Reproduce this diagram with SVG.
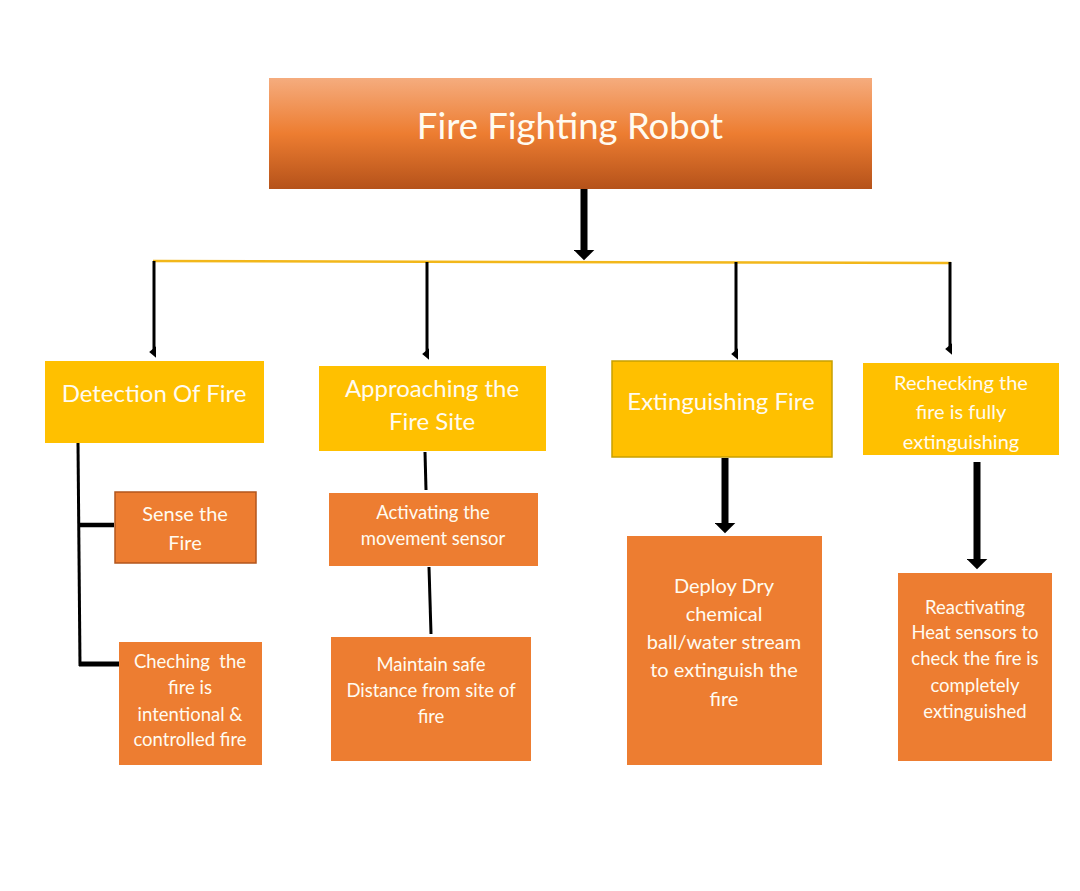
<svg xmlns="http://www.w3.org/2000/svg" width="1080" height="891" viewBox="0 0 1080 891">
<defs>
<linearGradient id="topGrad" x1="0" y1="0" x2="0" y2="1">
<stop offset="0" stop-color="#f5ac7e"/>
<stop offset="0.5" stop-color="#ed7d31"/>
<stop offset="1" stop-color="#b5521a"/>
</linearGradient>
<marker id="ah" viewBox="0 0 10 10" refX="5" refY="2" markerWidth="4" markerHeight="4" orient="auto-start-reverse" markerUnits="strokeWidth">
<path d="M0,0 L10,0 L5,6 Z" fill="#000"/>
</marker>
<marker id="ahBig" viewBox="0 0 10 10" refX="5" refY="2" markerWidth="3" markerHeight="3" orient="0" markerUnits="strokeWidth">
<path d="M0,0 L10,0 L5,5 Z" fill="#000"/>
</marker>
<clipPath id="recClip"><rect x="863" y="363" width="196" height="92"/></clipPath>
</defs>
<style>
text{font-family:Lato,"Open Sans","Liberation Sans",sans-serif;fill:#fffbf0;text-anchor:middle;white-space:pre}
.y{fill:#ffc000}
.o{fill:#ed7d31}
.t1{font-size:24px}
.t2{font-size:20px}
.t3{font-size:18.5px}
.c{stroke:#000;fill:none}
</style>
<rect width="1080" height="891" fill="#fff"/>

<g id="connectors">
<line x1="584" y1="189" x2="584" y2="254" class="c" stroke-width="7" marker-end="url(#ahBig)"/>
<line x1="153" y1="261" x2="951" y2="263" stroke="#f2b71a" stroke-width="2.5"/>
<line x1="154" y1="261" x2="154" y2="352" class="c" stroke-width="3" marker-end="url(#ah)"/>
<line x1="427" y1="262" x2="427" y2="354" class="c" stroke-width="3" marker-end="url(#ah)"/>
<line x1="736" y1="262" x2="736" y2="354" class="c" stroke-width="3" marker-end="url(#ah)"/>
<line x1="950" y1="262" x2="950" y2="349" class="c" stroke-width="3" marker-end="url(#ah)"/>
<line x1="78" y1="443" x2="80" y2="666" class="c" stroke-width="3"/>
<line x1="79" y1="525" x2="114" y2="525" class="c" stroke-width="4.5"/>
<line x1="79" y1="664" x2="119" y2="664" class="c" stroke-width="5"/>
<line x1="425" y1="452" x2="426" y2="490" class="c" stroke-width="3"/>
<line x1="429" y1="567" x2="431" y2="634" class="c" stroke-width="3"/>
<line x1="725" y1="458" x2="725" y2="527" class="c" stroke-width="7" marker-end="url(#ahBig)"/>
<line x1="977" y1="462" x2="977" y2="563" class="c" stroke-width="7" marker-end="url(#ahBig)"/>
</g>

<g id="root">
<rect x="269" y="78" width="603" height="111" fill="url(#topGrad)"/>
<text x="570" y="139" font-size="36.5">Fire Fighting Robot</text>
</g>

<g id="detection">
<rect class="y" x="45" y="361" width="219" height="82"/>
<text class="t1" x="154" y="402">Detection Of Fire</text>
</g>
<g id="approaching">
<rect class="y" x="319" y="366" width="227" height="85"/>
<text class="t1" x="432" y="397">Approaching the</text>
<text class="t1" x="432" y="430">Fire Site</text>
</g>
<g id="extinguishing">
<rect class="y" x="612" y="361" width="220" height="96" stroke="#c8a000" stroke-width="1.5"/>
<text class="t1" x="721" y="410">Extinguishing Fire</text>
</g>
<g id="rechecking">
<rect class="y" x="863" y="363" width="196" height="92"/>
<g clip-path="url(#recClip)">
<text class="t2" x="961" y="390">Rechecking the</text>
<text class="t2" x="961" y="419">fire is fully</text>
<text class="t2" x="961" y="449">extinguishing</text>
</g>
</g>

<g id="sense">
<rect class="o" x="115" y="492" width="141" height="71" stroke="#b3561d" stroke-width="1.5"/>
<text class="t2" x="185" y="521">Sense the</text>
<text class="t2" x="185" y="550">Fire</text>
</g>
<g id="cheching">
<rect class="o" x="119" y="642" width="143" height="123"/>
<text class="t3" x="190" y="668">Cheching  the</text>
<text class="t3" x="190" y="694">fire is</text>
<text class="t3" x="190" y="721">intentional &amp;</text>
<text class="t3" x="190" y="746">controlled fire</text>
</g>
<g id="activating">
<rect class="o" x="329" y="493" width="209" height="73"/>
<text class="t3" x="433" y="519">Activating the</text>
<text class="t3" x="433" y="545">movement sensor</text>
</g>
<g id="maintain">
<rect class="o" x="331" y="637" width="200" height="124"/>
<text class="t3" x="431" y="671">Maintain safe</text>
<text class="t3" x="431" y="697">Distance from site of</text>
<text class="t3" x="431" y="723">fire</text>
</g>
<g id="deploy">
<rect class="o" x="627" y="536" width="195" height="229"/>
<text class="t2" x="724" y="593">Deploy Dry</text>
<text class="t2" x="724" y="621">chemical</text>
<text class="t2" x="724" y="649">ball/water stream</text>
<text class="t2" x="724" y="677">to extinguish the</text>
<text class="t2" x="724" y="706">fire</text>
</g>
<g id="reactivating">
<rect class="o" x="898" y="573" width="154" height="188"/>
<text class="t3" x="975" y="614">Reactivating</text>
<text class="t3" x="975" y="639">Heat sensors to</text>
<text class="t3" x="975" y="665">check the fire is</text>
<text class="t3" x="975" y="692">completely</text>
<text class="t3" x="975" y="718">extinguished</text>
</g>
</svg>
